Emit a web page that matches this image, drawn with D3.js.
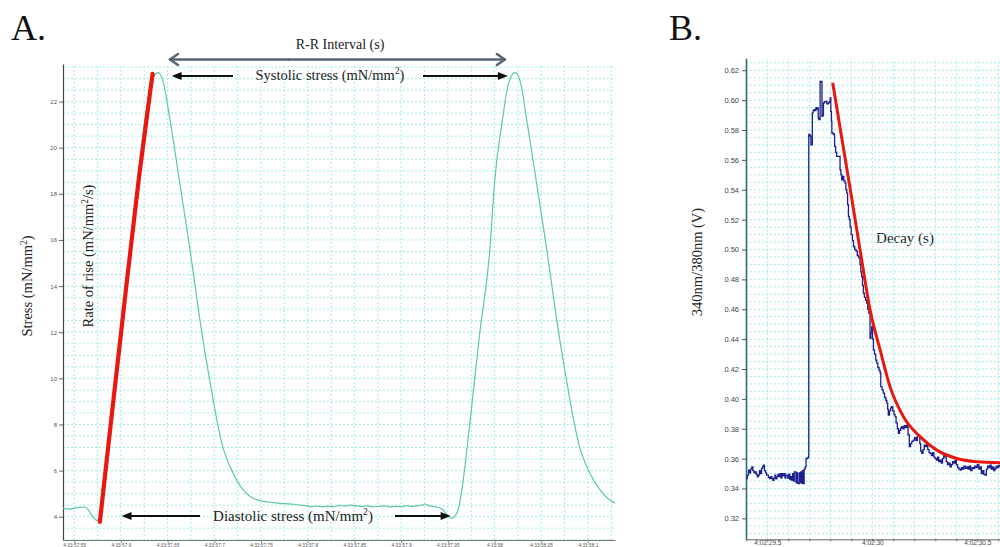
<!DOCTYPE html>
<html>
<head>
<meta charset="utf-8">
<script src="https://cdn.jsdelivr.net/npm/d3@7"></script>
<style>
  body { margin: 0; background: #fff; }
  svg { display: block; }
</style>
</head>
<body>
<svg id="fig" width="1000" height="547"></svg>
<script>
// ---------- Panel A: wall stress trace (seconds after 4:33) ----------
const stressTime = [
  57.538, 57.545, 57.550, 57.556, 57.561, 57.566, 57.570, 57.575, 57.580, 57.584,
  57.590, 57.597, 57.604, 57.612, 57.620, 57.627, 57.633, 57.640, 57.645, 57.652,
  57.663, 57.674, 57.684, 57.695, 57.709, 57.720, 57.731, 57.739, 57.749, 57.756,
  57.762, 57.770, 57.778, 57.785, 57.792, 57.798, 57.804, 57.810, 57.816, 57.822,
  57.828, 57.834, 57.840, 57.846, 57.852, 57.858, 57.864, 57.870, 57.876, 57.882,
  57.888, 57.894, 57.900, 57.906, 57.912, 57.918, 57.922, 57.925, 57.929, 57.934,
  57.940, 57.945, 57.950, 57.954, 57.958, 57.961, 57.965, 57.974, 57.984, 57.995,
  58.000, 58.009, 58.015, 58.022, 58.028, 58.034, 58.045, 58.056, 58.066, 58.077,
  58.091, 58.102, 58.113, 58.121, 58.129
];
const stressValue = [
  4.36, 4.33, 4.37, 4.40, 4.42, 4.25, 3.98, 3.83, 4.60, 6.20,
  8.40, 10.90, 13.60, 16.40, 19.30, 21.60, 22.90, 23.26, 22.90, 21.34,
  18.47, 15.57, 12.70, 9.93, 7.04, 5.90, 5.16, 4.85, 4.70, 4.64,
  4.62, 4.58, 4.56, 4.54, 4.50, 4.48, 4.44, 4.46, 4.43, 4.46,
  4.44, 4.49, 4.46, 4.50, 4.47, 4.44, 4.47, 4.43, 4.45, 4.47,
  4.43, 4.45, 4.44, 4.47, 4.45, 4.48, 4.50, 4.55, 4.48, 4.45,
  4.40, 4.29, 4.05, 3.93, 4.05, 4.29, 5.16, 8.20, 11.90, 15.57,
  18.47, 21.34, 22.80, 23.26, 22.80, 21.34, 18.47, 15.57, 12.70, 9.93,
  7.04, 5.90, 5.16, 4.80, 4.59
];
// rate-of-rise fit over the upstroke
const riseTime  = [57.5775, 57.5915, 57.6055, 57.6195, 57.6339];
const riseValue = [3.78, 8.9, 13.9, 18.9, 23.2];

const stressYTicks = [4, 6, 8, 10, 12, 14, 16, 18, 20, 22];
const stressXTicks = [57.55, 57.6, 57.65, 57.7, 57.75, 57.8, 57.85, 57.9, 57.95, 58, 58.05, 58.1];

// ---------- Panel B: Fura-2 ratio transient (seconds after 4:02) ----------
const ratioTime = [
  29.399, 29.404, 29.410, 29.415, 29.420, 29.426, 29.431, 29.436, 29.441, 29.447,
  29.452, 29.457, 29.462, 29.467, 29.472, 29.477, 29.481, 29.486, 29.491, 29.496,
  29.500, 29.505, 29.510, 29.516, 29.521, 29.526, 29.531, 29.536, 29.540, 29.545,
  29.550, 29.555, 29.560, 29.565, 29.569, 29.574, 29.579, 29.584, 29.588, 29.592,
  29.597, 29.602, 29.607, 29.611, 29.616, 29.620, 29.624, 29.628, 29.632, 29.636,
  29.640, 29.644, 29.648, 29.652, 29.655, 29.659, 29.663, 29.667, 29.671, 29.675,
  29.680, 29.684, 29.690, 29.695, 29.697, 29.703, 29.707, 29.711, 29.714, 29.718,
  29.722, 29.727, 29.731, 29.735, 29.738, 29.742, 29.745, 29.748, 29.751, 29.755,
  29.759, 29.760, 29.764, 29.767, 29.772, 29.778, 29.783, 29.790, 29.795, 29.799,
  29.802, 29.805, 29.807, 29.812, 29.818, 29.820, 29.825, 29.830, 29.836, 29.843,
  29.846, 29.850, 29.854, 29.859, 29.864, 29.870, 29.874, 29.878, 29.882, 29.886,
  29.890, 29.894, 29.899, 29.905, 29.910, 29.916, 29.922, 29.928, 29.933, 29.937,
  29.941, 29.945, 29.949, 29.953, 29.957, 29.962, 29.968, 29.973, 29.978, 29.983,
  29.986, 29.989, 29.993, 29.997, 30.001, 30.005, 30.010, 30.016, 30.021, 30.026,
  30.032, 30.037, 30.040, 30.046, 30.052, 30.058, 30.064, 30.069, 30.073, 30.076,
  30.081, 30.087, 30.092, 30.097, 30.103, 30.108, 30.113, 30.119, 30.124, 30.129,
  30.135, 30.140, 30.146, 30.152, 30.158, 30.164, 30.170, 30.176, 30.182, 30.188,
  30.195, 30.201, 30.208, 30.214, 30.219, 30.226, 30.230, 30.235, 30.241, 30.247,
  30.253, 30.259, 30.264, 30.270, 30.275, 30.281, 30.287, 30.293, 30.299, 30.305,
  30.311, 30.316, 30.322, 30.328, 30.334, 30.340, 30.346, 30.352, 30.358, 30.364,
  30.370, 30.376, 30.382, 30.388, 30.394, 30.400, 30.406, 30.412, 30.418, 30.424,
  30.430, 30.436, 30.443, 30.450, 30.456, 30.462, 30.468, 30.475, 30.481, 30.487,
  30.494, 30.500, 30.507, 30.513, 30.519, 30.525, 30.531, 30.537, 30.543, 30.549,
  30.555, 30.560, 30.566, 30.572, 30.578, 30.584, 30.590, 30.596, 30.602, 30.608
];
const ratioValue = [
  0.3467, 0.3490, 0.3523, 0.3505, 0.3530, 0.3545, 0.3520, 0.3505, 0.3511, 0.3495,
  0.3478, 0.3490, 0.3520, 0.3500, 0.3535, 0.3545, 0.3556, 0.3520, 0.3505, 0.3489,
  0.3489, 0.3475, 0.3467, 0.3480, 0.3467, 0.3455, 0.3470, 0.3490, 0.3465, 0.3478,
  0.3495, 0.3480, 0.3500, 0.3470, 0.3500, 0.3485, 0.3500, 0.3470, 0.3489, 0.3489,
  0.3470, 0.3495, 0.3460, 0.3480, 0.3456, 0.3500, 0.3450, 0.3511, 0.3511, 0.3440,
  0.3505, 0.3435, 0.3433, 0.3505, 0.3440, 0.3511, 0.3435, 0.3520, 0.3433, 0.3530,
  0.3545, 0.3601, 0.3605, 0.3612, 0.5770, 0.5760, 0.5700, 0.5700, 0.5914, 0.5930,
  0.5937, 0.5930, 0.5950, 0.5940, 0.5948, 0.5880, 0.5870, 0.5870, 0.6126, 0.6120,
  0.6126, 0.5892, 0.5900, 0.5981, 0.5990, 0.5992, 0.5975, 0.5981, 0.5990, 0.6015,
  0.5925, 0.5860, 0.5780, 0.5775, 0.5769, 0.5691, 0.5650, 0.5624, 0.5624, 0.5624,
  0.5534, 0.5500, 0.5467, 0.5490, 0.5460, 0.5445, 0.5400, 0.5378, 0.5300, 0.5221,
  0.5200, 0.5150, 0.5100, 0.5060, 0.5020, 0.5000, 0.4990, 0.4960, 0.4953, 0.4940,
  0.4900, 0.4850, 0.4818, 0.4760, 0.4708, 0.4680, 0.4660, 0.4641, 0.4600, 0.4574,
  0.4574, 0.4406, 0.4440, 0.4484, 0.4400, 0.4328, 0.4300, 0.4260, 0.4239, 0.4210,
  0.4190, 0.4172, 0.4082, 0.4060, 0.4038, 0.4010, 0.3990, 0.3971, 0.3930, 0.3892,
  0.3920, 0.3940, 0.3948, 0.3920, 0.3895, 0.3881, 0.3840, 0.3800, 0.3769, 0.3790,
  0.3805, 0.3814, 0.3800, 0.3820, 0.3810, 0.3825, 0.3760, 0.3680, 0.3700, 0.3715,
  0.3724, 0.3740, 0.3720, 0.3750, 0.3758, 0.3700, 0.3650, 0.3635, 0.3660, 0.3690,
  0.3680, 0.3702, 0.3660, 0.3640, 0.3635, 0.3620, 0.3640, 0.3610, 0.3601, 0.3590,
  0.3610, 0.3580, 0.3590, 0.3570, 0.3600, 0.3620, 0.3612, 0.3580, 0.3560, 0.3570,
  0.3545, 0.3560, 0.3580, 0.3570, 0.3590, 0.3560, 0.3540, 0.3530, 0.3523, 0.3540,
  0.3530, 0.3550, 0.3535, 0.3545, 0.3530, 0.3550, 0.3520, 0.3540, 0.3534, 0.3550,
  0.3540, 0.3560, 0.3530, 0.3545, 0.3500, 0.3520, 0.3495, 0.3489, 0.3530, 0.3550,
  0.3540, 0.3556, 0.3530, 0.3545, 0.3520, 0.3534, 0.3550, 0.3540, 0.3555, 0.3545
];
// exponential decay fit
const decayTime  = [29.811, 29.846, 29.894, 29.949, 29.989, 30.037, 30.084, 30.148, 30.227, 30.307, 30.402, 30.497, 30.608];
const decayValue = [0.6116, 0.5817, 0.5409, 0.4931, 0.4596, 0.4328, 0.4082, 0.3881, 0.3747, 0.3657, 0.3601, 0.3579, 0.3572];

const ratioYTicks = [0.32, 0.34, 0.36, 0.38, 0.40, 0.42, 0.44, 0.46, 0.48, 0.50, 0.52, 0.54, 0.56, 0.58, 0.60, 0.62];
const ratioXTicks = [29.5, 30, 30.5];

// ---------- drawing ----------
const svg = d3.select("#fig");
const serif = "'Liberation Serif','Times New Roman',serif";
const sans = "'Liberation Sans',Arial,sans-serif";
const gridColor = "#a3ecec";

// text with a superscript "2": parts = [text, sup, text, ...]
function richText(g, parts, size) {
  const t = g.append("text").attr("font-family", serif).attr("font-size", size).attr("fill", "#222");
  parts.forEach((p, i) => {
    if (i % 2 === 1) {
      t.append("tspan").attr("dy", -size * 0.38).attr("font-size", size * 0.65).text(p);
    } else {
      const s = t.append("tspan").text(p);
      if (i > 0) s.attr("dy", size * 0.38);
    }
  });
  return t;
}

function arrow(g, x1, y1, x2, y2, opts) {
  // shaft from (x1,y1), head tip at (x2,y2)
  const ang = Math.atan2(y2 - y1, x2 - x1);
  const L = opts.headLen, W = opts.headW;
  const bx = x2 - L * Math.cos(ang), by = y2 - L * Math.sin(ang);
  const px = -Math.sin(ang) * W, py = Math.cos(ang) * W;
  if (opts.open) {
    g.append("line").attr("x1", x1).attr("y1", y1).attr("x2", x2).attr("y2", y2)
      .attr("stroke", opts.color).attr("stroke-width", opts.width).attr("stroke-linecap", "round");
    g.append("path").attr("d", `M${bx + px},${by + py}L${x2},${y2}L${bx - px},${by - py}`)
      .attr("fill", "none").attr("stroke", opts.color).attr("stroke-width", opts.width)
      .attr("stroke-linecap", "round").attr("stroke-linejoin", "round");
  } else {
    g.append("line").attr("x1", x1).attr("y1", y1).attr("x2", bx + L * 0.3 * Math.cos(ang)).attr("y2", by + L * 0.3 * Math.sin(ang))
      .attr("stroke", opts.color).attr("stroke-width", opts.width);
    g.append("path").attr("d", `M${x2},${y2}L${bx + px},${by + py}L${bx - px},${by - py}Z`)
      .attr("fill", opts.color);
  }
}

// ===== Panel A =====
const xA = d3.scaleLinear().domain([57.538, 58.129]).range([63, 615]);
const yA = d3.scaleLinear().domain([2.99, 23.63]).range([540, 64]);
const gA = svg.append("g");

const gridA = gA.append("g").attr("stroke", gridColor).attr("stroke-width", 1).attr("stroke-dasharray", "2,2");
gridA.selectAll("line.v").data(d3.range(57.55, 58.13, 0.025)).join("line").attr("class", "v")
  .attr("x1", d => xA(d)).attr("x2", d => xA(d)).attr("y1", yA(2.99)).attr("y2", yA(23.63));
gridA.selectAll("line.h").data(d3.range(3, 23.6, 0.5)).join("line").attr("class", "h")
  .attr("x1", xA(57.538)).attr("x2", xA(58.129)).attr("y1", d => yA(d)).attr("y2", d => yA(d));

const axA_y = gA.append("g").attr("transform", `translate(${xA(57.538)},0)`)
  .call(d3.axisLeft(yA).tickValues(stressYTicks).tickSize(4).tickSizeOuter(0).tickPadding(2));
axA_y.select(".domain").attr("stroke", "#444").attr("stroke-width", 1.2);
axA_y.selectAll(".tick line").attr("stroke", "#666");
axA_y.selectAll("text").attr("font-family", sans).attr("font-size", 6).attr("fill", "#555");

const axA_x = gA.append("g").attr("transform", `translate(0,${yA(2.99)})`)
  .call(d3.axisBottom(xA).tickValues(stressXTicks).tickSize(3).tickSizeOuter(0).tickPadding(1)
    .tickFormat(d => "4:33:" + (+d.toFixed(2))));
axA_x.select(".domain").attr("stroke", "#777");
axA_x.selectAll(".tick line").attr("stroke", "#888");
axA_x.selectAll("text").attr("font-family", sans).attr("font-size", 4.8).attr("fill", "#555");

const stressLine = d3.line().x((d, i) => xA(stressTime[i])).y(d => yA(d)).curve(d3.curveMonotoneX);
gA.append("path").attr("d", stressLine(stressValue))
  .attr("fill", "none").attr("stroke", "#5fc7a6").attr("stroke-width", 1.2);

const riseLine = d3.line().x((d, i) => xA(riseTime[i])).y(d => yA(d)).curve(d3.curveBasis);
gA.append("path").attr("d", riseLine(riseValue))
  .attr("fill", "none").attr("stroke", "#e8170f").attr("stroke-width", 4.2).attr("stroke-linecap", "round");

// annotations
const ann = svg.append("g");
ann.append("text").attr("x", 11).attr("y", 40).attr("font-family", serif).attr("font-size", 36).attr("fill", "#111").text("A.");
ann.append("text").attr("x", 669).attr("y", 40).attr("font-family", serif).attr("font-size", 36).attr("fill", "#111").text("B.");

ann.append("text").attr("x", 340).attr("y", 49).attr("text-anchor", "middle")
  .attr("font-family", serif).attr("font-size", 14).attr("fill", "#222").text("R-R Interval (s)");
arrow(ann, xA(57.78), 59.5, xA(57.6525), 59.5, { open: true, headLen: 8, headW: 5.5, color: "#5a6275", width: 2.5 });
arrow(ann, xA(57.78), 59.5, xA(58.0111), 59.5, { open: true, headLen: 8, headW: 5.5, color: "#5a6275", width: 2.5 });

const sys = richText(ann, ["Systolic stress (mN/mm", "2", ")"], 14.5);
sys.attr("x", 330).attr("y", 80).attr("text-anchor", "middle");
arrow(ann, 233, yA(23.11), xA(57.6543), yA(23.11), { headLen: 10, headW: 4, color: "#111", width: 2 });
arrow(ann, 423, yA(23.11), xA(58.0143), yA(23.11), { headLen: 10, headW: 4, color: "#111", width: 2 });

const dia = richText(ann, ["Diastolic stress (mN/mm", "2", ")"], 15);
dia.attr("x", 293).attr("y", 521).attr("text-anchor", "middle");
arrow(ann, 200, yA(4.03), xA(57.6007), yA(4.03), { headLen: 10, headW: 4, color: "#111", width: 2 });
arrow(ann, 395, yA(4.03), xA(57.953), yA(4.03), { headLen: 10, headW: 4, color: "#111", width: 2 });

const yLabA = richText(ann, ["Stress (mN/mm", "2", ")"], 14.5);
yLabA.attr("text-anchor", "middle").attr("transform", "translate(32,286) rotate(-90)");
const rate = richText(ann, ["Rate of rise (mN/mm", "2", "/s)"], 14.5);
rate.attr("text-anchor", "middle").attr("transform", "translate(93,256) rotate(-90)");

// ===== Panel B =====
const xB = d3.scaleLinear().domain([29.398, 30.608]).range([746, 1000]);
const yB = d3.scaleLinear().domain([0.306, 0.628]).range([539.3, 58.3]);
const gB = svg.append("g");

const gridB = gB.append("g").attr("stroke", gridColor).attr("stroke-width", 1).attr("stroke-dasharray", "2,2");
gridB.selectAll("line.v").data(d3.range(29.4, 30.61, 0.1)).join("line").attr("class", "v")
  .attr("x1", d => xB(d)).attr("x2", d => xB(d)).attr("y1", yB(0.306)).attr("y2", yB(0.628));
gridB.selectAll("line.h").data(d3.range(0.31, 0.6275, 0.005)).join("line").attr("class", "h")
  .attr("x1", xB(29.398)).attr("x2", xB(30.608)).attr("y1", d => yB(d)).attr("y2", d => yB(d));

const axB_y = gB.append("g").attr("transform", `translate(${xB(29.398)},0)`)
  .call(d3.axisLeft(yB).tickValues(ratioYTicks).tickSize(4).tickSizeOuter(0).tickPadding(3)
    .tickFormat(d3.format(".2f")));
axB_y.select(".domain").attr("stroke", "#2f6e6e").attr("stroke-width", 1.6);
axB_y.selectAll(".tick line").attr("stroke", "#555");
axB_y.selectAll("text").attr("font-family", sans).attr("font-size", 7.5).attr("fill", "#444");

const axB_x = gB.append("g").attr("transform", `translate(0,${yB(0.306)})`)
  .call(d3.axisBottom(xB).tickValues(d3.range(29.4, 30.61, 0.1)).tickSize(2).tickSizeOuter(0).tickPadding(0)
    .tickFormat(d => ratioXTicks.some(v => Math.abs(v - d) < 1e-6) ? "4:02:" + (+d.toFixed(1)) : ""));
axB_x.select(".domain").attr("stroke", "#666");
axB_x.selectAll(".tick line").attr("stroke", "#666");
axB_x.selectAll("text").attr("font-family", sans).attr("font-size", 6.5).attr("fill", "#444")
  .attr("dy", "0.62em");

const ratioLine = d3.line().x((d, i) => xB(ratioTime[i])).y(d => yB(d)).curve(d3.curveStepAfter);
gB.append("path").attr("d", ratioLine(ratioValue))
  .attr("fill", "none").attr("stroke", "#1c1f8f").attr("stroke-width", 1.3);

const decayLine = d3.line().x((d, i) => xB(decayTime[i])).y(d => yB(d)).curve(d3.curveMonotoneX);
gB.append("path").attr("d", decayLine(decayValue))
  .attr("fill", "none").attr("stroke", "#e8170f").attr("stroke-width", 3);

ann.append("text").attr("x", 905).attr("y", 243).attr("text-anchor", "middle")
  .attr("font-family", serif).attr("font-size", 15).attr("fill", "#222").text("Decay (s)");
ann.append("text").attr("text-anchor", "middle").attr("transform", "translate(702,262) rotate(-90)")
  .attr("font-family", serif).attr("font-size", 14.5).attr("fill", "#222").text("340nm/380nm (V)");
</script>
</body>
</html>
